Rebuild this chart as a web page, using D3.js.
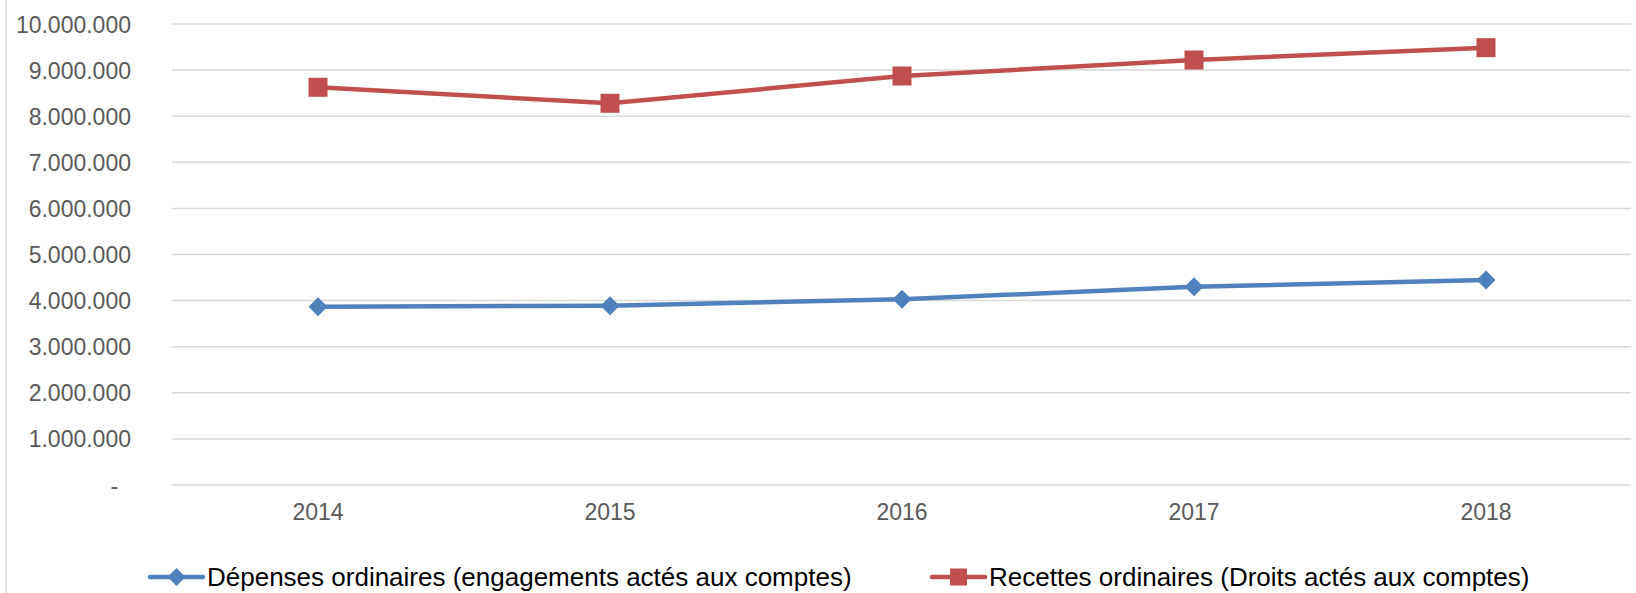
<!DOCTYPE html>
<html>
<head>
<meta charset="utf-8">
<script src="https://cdn.jsdelivr.net/npm/d3@7/dist/d3.min.js"></script>
<style>
  html, body { margin: 0; padding: 0; background: #fff; }
  svg { display: block; font-family: "Liberation Sans", Arial, sans-serif; }
</style>
</head>
<body>
<svg id="chart" width="1636" height="593"></svg>
<script>
const years = ["2014", "2015", "2016", "2017", "2018"];
const depenses = [3868000, 3890000, 4028000, 4300000, 4447000];
const recettes = [8627000, 8280000, 8872000, 9219000, 9486000];
const yTicks = [0, 1000000, 2000000, 3000000, 4000000, 5000000, 6000000, 7000000, 8000000, 9000000, 10000000];
const seriesNames = ["Dépenses ordinaires (engagements actés aux comptes)", "Recettes ordinaires (Droits actés aux comptes)"];
const seriesColors = ["#4F81BD", "#C0504D"];

const svg = d3.select("#chart");
const W = 1636, H = 593;

// chart border (only left edge visible)
svg.append("rect")
  .attr("x", 6).attr("y", -10).attr("width", W + 20).attr("height", H + 20)
  .attr("fill", "none").attr("stroke", "#d9d9d9").attr("stroke-width", 1.5);

const x = d3.scaleBand().domain(years).range([172, 1632]).padding(0);
const y = d3.scaleLinear().domain([0, 10000000]).range([485, 24]);

const fmt = v => v === 0 ? "-\u00A0\u00A0" : d3.format(",")(v).replace(/,/g, ".");

// gridlines
svg.append("g").selectAll("line").data(yTicks).join("line")
  .attr("x1", 172).attr("x2", 1631)
  .attr("y1", d => y(d)).attr("y2", d => y(d))
  .attr("stroke", "#d9d9d9").attr("stroke-width", 1.5);

// y axis labels
const yAxis = d3.axisLeft(y).tickValues(yTicks).tickFormat(fmt).tickSize(0).tickPadding(0);
const gy = svg.append("g").attr("transform", "translate(131,0)").call(yAxis);
gy.select(".domain").remove();
gy.selectAll("text").attr("font-size", 23).attr("fill", "#595959")
  .attr("font-family", "Liberation Sans, Arial, sans-serif").attr("dy", "0.35em");

// x axis labels
const xAxis = d3.axisBottom(x).tickSize(0).tickPadding(0);
const gx = svg.append("g").attr("transform", "translate(0,485)").call(xAxis);
gx.select(".domain").remove();
gx.selectAll("text").attr("font-size", 23).attr("fill", "#595959")
  .attr("font-family", "Liberation Sans, Arial, sans-serif").attr("y", 35).attr("dy", 0);

const line = d3.line().x((d, i) => x(years[i]) + x.bandwidth() / 2).y(d => y(d));

const series = [depenses, recettes];
series.forEach((vals, si) => {
  svg.append("path").datum(vals)
    .attr("d", line).attr("fill", "none")
    .attr("stroke", seriesColors[si]).attr("stroke-width", 4.5)
    .attr("stroke-linejoin", "round");
});

// markers
const diamond = r => `M0,${-r}L${r},0L0,${r}L${-r},0Z`;
svg.append("g").selectAll("path").data(depenses).join("path")
  .attr("transform", (d, i) => `translate(${x(years[i]) + x.bandwidth() / 2},${y(d)})`)
  .attr("d", diamond(9.5)).attr("fill", seriesColors[0]);
svg.append("g").selectAll("rect").data(recettes).join("rect")
  .attr("x", (d, i) => x(years[i]) + x.bandwidth() / 2 - 9.5)
  .attr("y", d => y(d) - 9.5)
  .attr("width", 19).attr("height", 19).attr("fill", seriesColors[1]);

// legend
const legendY = 577;
const legendItems = [
  { x0: 150, x1: 203, text: seriesNames[0], color: seriesColors[0], shape: "diamond" },
  { x0: 932, x1: 985, text: seriesNames[1], color: seriesColors[1], shape: "square" }
];
legendItems.forEach(it => {
  const g = svg.append("g");
  g.append("line").attr("x1", it.x0).attr("x2", it.x1).attr("y1", legendY).attr("y2", legendY)
    .attr("stroke", it.color).attr("stroke-width", 4.5).attr("stroke-linecap", "round");
  const cx = (it.x0 + it.x1) / 2;
  if (it.shape === "diamond") {
    g.append("path").attr("transform", `translate(${cx},${legendY})`).attr("d", diamond(9)).attr("fill", it.color);
  } else {
    g.append("rect").attr("x", cx - 8.5).attr("y", legendY - 8.5).attr("width", 17).attr("height", 17).attr("fill", it.color);
  }
  g.append("text").attr("x", it.x1 + 4).attr("y", 586).attr("font-size", 26).attr("fill", "#000")
    .text(it.text);
});
</script>
</body>
</html>
